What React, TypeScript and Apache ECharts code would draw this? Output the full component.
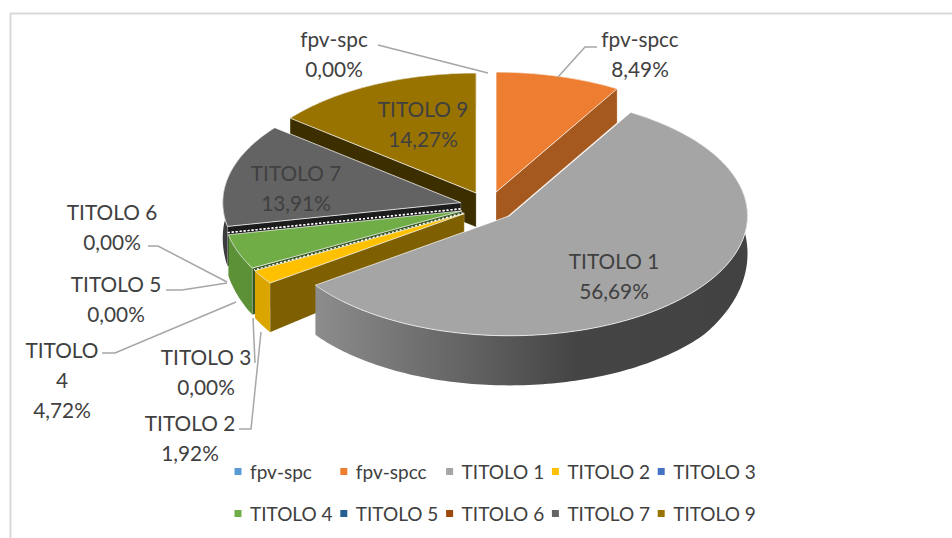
import React, { useEffect, useRef } from "react";
import * as echarts from "echarts";

const names = ["fpv-spc", "fpv-spcc", "TITOLO 1", "TITOLO 2", "TITOLO 3", "TITOLO 4", "TITOLO 5", "TITOLO 6", "TITOLO 7", "TITOLO 9"];
const values = [0, 8.49, 56.69, 1.92, 0, 4.72, 0, 0, 13.91, 14.27];
const topColors = ["#5B9BD5", "#ED7D31", "#A5A5A5", "#FFC000", "#4472C4", "#70AD47", "#255E91", "#9E480E", "#636363", "#997300"];
const sideColors = ["#4A7DAB", "#B8621F", "#555555", "#DBA500", "#365B9D", "#5C9138", "#1E4B74", "#7E390B", "#3C3C3C", "#6E5300"];
const wallColors = ["#2E4E6B", "#A5591F", "#555555", "#7F6000", "#223962", "#375623", "#122D46", "#4F2407", "#1C1C1C", "#3D2E00"];

// Geometry of the tilted pie
const CX = 488.5, CY = 206, RX = 238, RY = 120, EXPLODE = 0.12;
const FONT = "Lato, Carlito, sans-serif";
const TEXT = "#404040";
const LEADER = "#A6A6A6";

// Text anchor and leader for each label, by series index
const labelLayout: { x: number; y: number; line?: number[][]; breakName?: boolean }[] = [
  { x: 334, y: 53, line: [[378, 45], [488, 73]] },
  { x: 640, y: 53, line: [[597, 47], [585, 47], [558, 77]] },
  { x: 614, y: 275.5 },
  { x: 190, y: 437, line: [[239, 429], [251, 429], [261, 332]] },
  { x: 206, y: 371, line: [[255, 363], [253, 318]] },
  { x: 62, y: 379, breakName: true, line: [[102, 353], [115, 353], [236, 302]] },
  { x: 116, y: 298, line: [[166, 290], [182, 290], [227, 283]] },
  { x: 112, y: 226, line: [[148, 246], [158, 246], [227, 282]] },
  { x: 296, y: 187 },
  { x: 423, y: 123.5 },
];

const fmt = (v: number) => v.toFixed(2).replace(".", ",") + "%";

function depthAt(y: number) {
  return 34 + Math.min(92, Math.max(0, y - 193)) * 0.17;
}

function makeRenderItem(index: number) {
  return (_params: any, api: any) => {
    const value = api.value(0) as number;
    const startPct = api.value(1) as number;
    const a0 = (startPct / 100) * Math.PI * 2;
    const a1 = ((startPct + value) / 100) * Math.PI * 2;
    const mid = (a0 + a1) / 2;
    const ax = CX + Math.sin(mid) * EXPLODE * RX;
    const ay = CY - Math.cos(mid) * EXPLODE * RY;
    const rim = (a: number) => [ax + Math.sin(a) * RX, ay - Math.cos(a) * RY];
    const below = (p: number[]) => [p[0], p[1] + depthAt(p[1])];

    if (value === 0) {
      return {
        type: "polyline",
        shape: { points: [[ax, ay], rim(a0)] },
        style: { stroke: "#FFFFFF", lineWidth: 1.4, lineDash: [2, 2], fill: "none" },
      };
    }

    const steps = Math.max(2, Math.ceil((a1 - a0) / 0.02));
    const arc: number[][] = [];
    for (let i = 0; i <= steps; i++) arc.push(rim(a0 + ((a1 - a0) * i) / steps));
    const children: any[] = [];

    const xs = arc.map((p) => p[0]);
    const isLargeSide = value > 50;
    children.push({
      type: "polygon",
      shape: { points: [...arc, ...arc.map(below).reverse()] },
      style: {
        fill: isLargeSide
          ? {
              type: "linear", x: 311, y: 0, x2: Math.max(...xs), y2: 0, global: true,
              colorStops: [
                { offset: 0, color: "#8E8E8E" },
                { offset: 0.6, color: "#454545" },
                { offset: 1, color: "#424242" },
              ],
            }
          : sideColors[index],
      },
    });

    const wall = (a: number) => {
      const r = rim(a);
      const apex = [ax, ay];
      return {
        type: "polygon",
        shape: { points: [apex, r, below(r), below(apex)] },
        style: { fill: wallColors[index], stroke: "rgba(255,255,255,0.35)", lineWidth: 0.6 },
      };
    };
    if (Math.sin(a0) < 0) children.push(wall(a0));
    if (Math.sin(a1) > 0) children.push(wall(a1));

    children.push({
      type: "polygon",
      shape: { points: [[ax, ay], ...arc] },
      style: { fill: topColors[index], stroke: "rgba(255,255,255,0.7)", lineWidth: 1, lineJoin: "round" },
    });
    return { type: "group", children };
  };
}

function buildOption() {
  const starts: number[] = [];
  values.reduce((sum, v, i) => {
    starts[i] = sum;
    return sum + v;
  }, 0);

  // Paint back to front: a slice further up the screen goes first
  const backness = values.map((v, i) => Math.cos(((starts[i] + v / 2) / 100) * Math.PI * 2));
  const order = values.map((_, i) => i).sort((p, q) => backness[q] - backness[p]);

  const series = names.map((name, i) => ({
    type: "custom",
    name,
    coordinateSystem: "none",
    z: 2 + order.indexOf(i),
    silent: true,
    itemStyle: { color: topColors[i] },
    data: [[values[i], starts[i]]],
    renderItem: makeRenderItem(i),
  }));

  const labelElements: any[] = [];
  names.forEach((name, i) => {
    const l = labelLayout[i];
    if (l.line) {
      labelElements.push({
        type: "polyline", z: 40, silent: true,
        shape: { points: l.line },
        style: { stroke: LEADER, lineWidth: 1.5, fill: "none" },
      });
    }
    const shown = l.breakName ? name.replace(" ", "\n") : name;
    labelElements.push({
      type: "text", z: 50, silent: true, x: l.x, y: l.y,
      style: {
        text: `${shown}\n${fmt(values[i])}`,
        fill: TEXT, font: `20.8px ${FONT}`, lineHeight: 30,
        textAlign: "center", textVerticalAlign: "middle", align: "center", verticalAlign: "middle",
      },
    });
  });

  // One legend per entry, so that the entries sit in even columns
  const legends = names.map((name, i) => ({
    orient: "horizontal", icon: "rect", itemWidth: 7, itemHeight: 7,
    selectedMode: false, padding: 0,
    left: 234.5 + (i % 5) * 105.8,
    top: i < 5 ? 462 : 504,
    data: [name],
    textStyle: { color: TEXT, fontFamily: FONT, fontSize: 19, padding: [0, 0, 0, 3.5] },
  }));

  return {
    animation: false,
    backgroundColor: "#FFFFFF",
    legend: legends,
    series,
    graphic: {
      elements: [
        { type: "line", silent: true, shape: { x1: 10.5, y1: 13, x2: 10.5, y2: 538 }, style: { stroke: "#D9D9D9", lineWidth: 2 } },
        { type: "line", silent: true, shape: { x1: 10, y1: 13.5, x2: 952, y2: 13.5 }, style: { stroke: "#D9D9D9", lineWidth: 2 } },
        ...labelElements,
      ],
    },
  };
}

export default function App() {
  const ref = useRef<HTMLDivElement>(null);
  useEffect(() => {
    if (!ref.current) return;
    const chart = echarts.init(ref.current, undefined, { renderer: "svg" });
    chart.setOption(buildOption() as any);
    return () => chart.dispose();
  }, []);
  return <div ref={ref} style={{ position: "absolute", left: 0, top: 0, width: 952, height: 538 }} />;
}
